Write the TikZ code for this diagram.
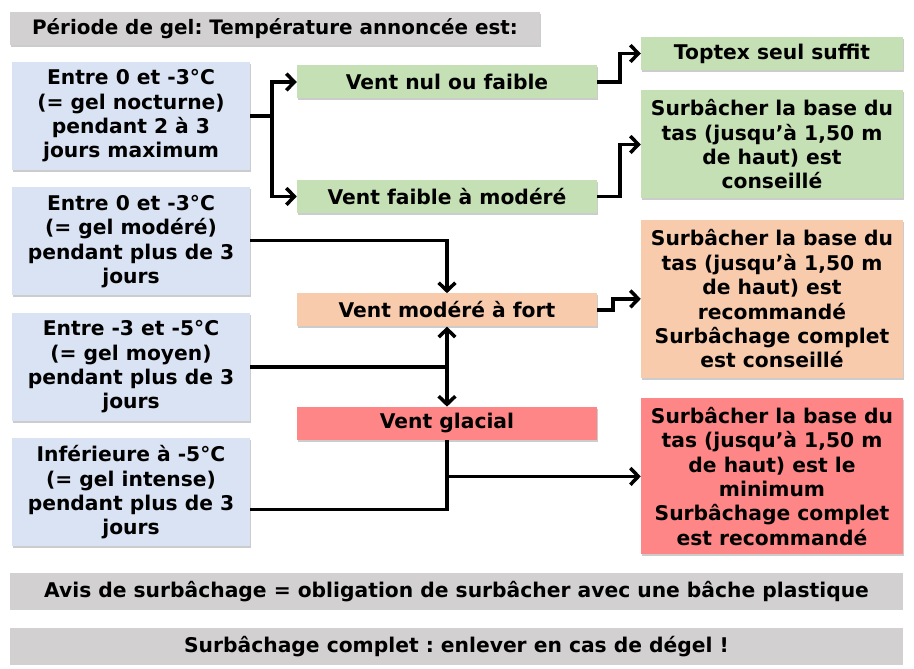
\documentclass[tikz,border=0pt]{standalone}
\usepackage{fontspec}
\setmainfont{DejaVu Sans}
\usepackage{tikz}
\usetikzlibrary{positioning, arrows.meta, shadows, calc}
\frenchspacing

\definecolor{gelblue}{RGB}{218,227,243}
\definecolor{gelgreen}{RGB}{197,224,180}
\definecolor{gelorange}{RGB}{248,203,173}
\definecolor{gelred}{RGB}{255,134,134}
\definecolor{gelgrey}{RGB}{210,208,208}

\begin{document}
\begin{tikzpicture}[
    boxfont/.style={font=\fontsize{17.3}{20.8}\selectfont\bfseries},
    shade/.style={drop shadow={shadow xshift=0.8pt, shadow yshift=-1.6pt, opacity=0.4}},
    headbox/.style={fill=gelgrey, shade, minimum width=15.9cm, minimum height=0.99cm, inner sep=1pt, font=\fontsize{17}{20}\selectfont\bfseries},
    condbox/.style={boxfont, fill=gelblue, shade, minimum width=7.14cm, minimum height=3.24cm, align=center, inner sep=1pt},
    windbox/.style={boxfont, shade, minimum width=9cm, minimum height=0.99cm, inner sep=1pt},
    advicebox/.style={boxfont, shade, minimum width=7.86cm, minimum height=0.99cm, align=center, inner sep=1pt},
    notebox/.style={boxfont, fill=gelgrey, minimum width=26.79cm, minimum height=1.1cm, inner sep=1pt},
    edge/.style={line width=3pt},
    arrowedge/.style={edge, -{Straight Barb[length=2.4mm, width=5mm, line width=3pt]}}
]

\fill[white] (0,0) rectangle (27.42,-20.07);
\useasboundingbox (0,0) rectangle (27.42,-20.07);

% Noeuds
\node[headbox] (title) at (8.25,-0.855) {Période de gel: Température annoncée est:};

\node[condbox] (c1) at (3.93,-3.48) {Entre 0 et -3°C\\(= gel nocturne)\\pendant 2 à 3\\jours maximum};
\node[condbox, below=0.51cm of c1] (c2) {Entre 0 et -3°C\\(= gel modéré)\\pendant plus de 3\\jours};
\node[condbox, below=0.51cm of c2] (c3) {Entre -3 et -5°C\\(= gel moyen)\\pendant plus de 3\\jours};
\node[condbox, below=0.51cm of c3] (c4) {Inférieure à -5°C\\(= gel intense)\\pendant plus de 3\\jours};

\node[windbox, fill=gelgreen] (w1) at (13.41,-2.46) {Vent nul ou faible};
\node[windbox, fill=gelgreen, below=2.43cm of w1] (w2) {Vent faible à modéré};
\node[windbox, fill=gelorange, below=2.4cm of w2] (w3) {Vent modéré à fort};
\node[windbox, fill=gelred, below=2.4cm of w3] (w4) {Vent glacial};

\node[advicebox, fill=gelgreen] (a1) at (23.16,-1.605) {Toptex seul suffit};
\node[advicebox, fill=gelgreen, minimum height=3.24cm, below=0.6cm of a1] (a2) {Surbâcher la base du\\tas (jusqu’à 1,50 m\\de haut) est\\conseillé};
\node[advicebox, fill=gelorange, minimum height=4.74cm, below=0.63cm of a2] (a3) {Surbâcher la base du\\tas (jusqu’à 1,50 m\\de haut) est\\recommandé\\Surbâchage complet\\est conseillé};
\node[advicebox, fill=gelred, minimum height=4.68cm, below=0.6cm of a3] (a4) {Surbâcher la base du\\tas (jusqu’à 1,50 m\\de haut) est le\\minimum\\Surbâchage complet\\est recommandé};

\node[notebox] (n1) at (13.695,-17.745) {Avis de surbâchage = obligation de surbâcher avec une bâche plastique};
\node[notebox, below=0.54cm of n1] (n2) {Surbâchage complet : enlever en cas de dégel !};

% Liaisons
\coordinate (j1) at ([xshift=0.66cm]c1.east);
\draw[edge] (c1.east) -- (j1);
\draw[arrowedge] (j1) |- (w1.west);
\draw[arrowedge] (j1) |- (w2.west);
\draw[arrowedge] (w1.east) -- ++(0.69,0) |- (a1.west);
\draw[arrowedge] (w2.east) -- ++(0.69,0) |- (a2.west);
\draw[arrowedge] ([yshift=0.03cm]c2.east) -| (w3.north);
\coordinate (j3) at (w3.south |- c3.east);
\draw[edge] (c3.east) -- (j3);
\draw[arrowedge] (j3) -- (w3.south);
\draw[arrowedge] (j3) -- (w4.north);
\draw[arrowedge] (w3.east) -- ++(0.48,0) |- (a3.west);
\draw[edge] ([yshift=-0.51cm]c4.east) -| (w4.south);
\draw[arrowedge] (w4.south |- a4.west) -- (a4.west);

\end{tikzpicture}
\end{document}
